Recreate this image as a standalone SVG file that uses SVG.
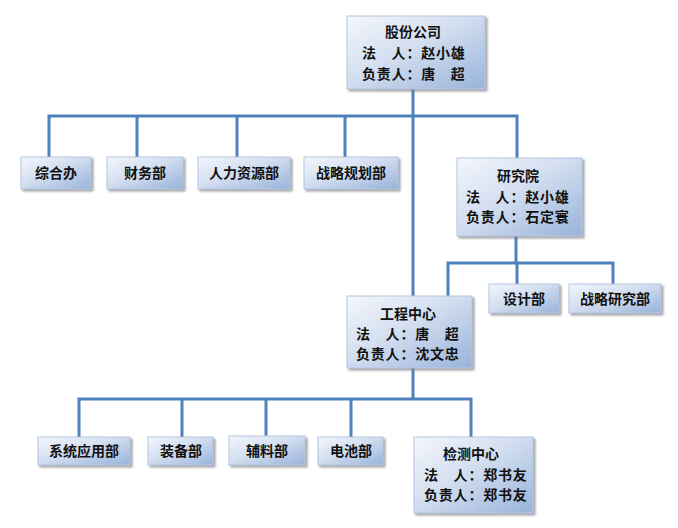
<svg xmlns="http://www.w3.org/2000/svg" width="678" height="528" viewBox="0 0 678 528">
<defs>
<linearGradient id="g" x1="0" y1="0" x2="1" y2="1">
<stop offset="0" stop-color="#f4f7fc"/>
<stop offset="0.45" stop-color="#d3def0"/>
<stop offset="1" stop-color="#98b3da"/>
</linearGradient>
<filter id="sh" x="-10%" y="-10%" width="130%" height="140%">
<feDropShadow dx="2" dy="2" stdDeviation="1.2" flood-color="#7a7a7a" flood-opacity="0.7"/>
</filter>
</defs>
<style>
.box{fill:url(#g);stroke:#b4c6e2;stroke-width:1;filter:url(#sh)}
.t{font-family:"Noto Sans CJK SC","Noto Sans CJK JP",sans-serif;font-size:14px;font-weight:bold;fill:#111}
.c{text-anchor:middle}
.ln{fill:none;stroke:#4f81bd;stroke-width:3}
</style>
<rect width="678" height="528" fill="#ffffff"/>
<g id="connectors">
<path class="ln" d="M413 89V296"/>
<path class="ln" d="M49 157V116H517V158"/>
<path class="ln" d="M137 116V157M237 116V157M345 116V157"/>
<path class="ln" d="M516 236V263"/>
<path class="ln" d="M448 296V263H613V284M517 263V284"/>
<path class="ln" d="M413 368V399"/>
<path class="ln" d="M79 437V399H471V437"/>
<path class="ln" d="M182 399V437M266 399V436M351 399V437"/>
</g>
<g id="n-gufen">
<rect class="box" x="347" y="16" width="138" height="73"/>
<text class="t c" x="413" y="37">股份公司</text>
<text class="t" x="362" y="58" letter-spacing="0.8">法　人：赵小雄</text>
<text class="t" x="362" y="79" letter-spacing="0.8">负责人：唐　超</text>
</g>
<g id="n-zonghe">
<rect class="box" x="21" y="157" width="70" height="32"/>
<text class="t c" x="56" y="178">综合办</text>
</g>
<g id="n-caiwu">
<rect class="box" x="107" y="157" width="76" height="32"/>
<text class="t c" x="145" y="178">财务部</text>
</g>
<g id="n-renli">
<rect class="box" x="198" y="157" width="92" height="32"/>
<text class="t c" x="244" y="178">人力资源部</text>
</g>
<g id="n-zhanlue">
<rect class="box" x="304" y="157" width="94" height="32"/>
<text class="t c" x="351" y="178">战略规划部</text>
</g>
<g id="n-yanjiu">
<rect class="box" x="457" y="158" width="125" height="78"/>
<text class="t c" x="518" y="181">研究院</text>
<text class="t" x="466" y="202" letter-spacing="0.8">法　人：赵小雄</text>
<text class="t" x="466" y="222" letter-spacing="0.8">负责人：石定寰</text>
</g>
<g id="n-sheji">
<rect class="box" x="489" y="284" width="70" height="29"/>
<text class="t c" x="524" y="304">设计部</text>
</g>
<g id="n-zlyj">
<rect class="box" x="569" y="284" width="92" height="29"/>
<text class="t c" x="615" y="304">战略研究部</text>
</g>
<g id="n-gongcheng">
<rect class="box" x="347" y="296" width="125" height="72"/>
<text class="t c" x="408" y="319">工程中心</text>
<text class="t" x="356" y="339" letter-spacing="0.8">法　人：唐　超</text>
<text class="t" x="356" y="359" letter-spacing="0.8">负责人：沈文忠</text>
</g>
<g id="n-xitong">
<rect class="box" x="38" y="437" width="92" height="28"/>
<text class="t c" x="84" y="456">系统应用部</text>
</g>
<g id="n-zhuangbei">
<rect class="box" x="148" y="437" width="65" height="28"/>
<text class="t c" x="181" y="456">装备部</text>
</g>
<g id="n-fuliao">
<rect class="box" x="229" y="436" width="76" height="29"/>
<text class="t c" x="267" y="456">辅料部</text>
</g>
<g id="n-dianchi">
<rect class="box" x="318" y="437" width="65" height="28"/>
<text class="t c" x="351" y="456">电池部</text>
</g>
<g id="n-jiance">
<rect class="box" x="414" y="437" width="119" height="76"/>
<text class="t c" x="471" y="459">检测中心</text>
<text class="t" x="424" y="480" letter-spacing="0.8">法　人：郑书友</text>
<text class="t" x="424" y="500" letter-spacing="0.8">负责人：郑书友</text>
</g>
</svg>
